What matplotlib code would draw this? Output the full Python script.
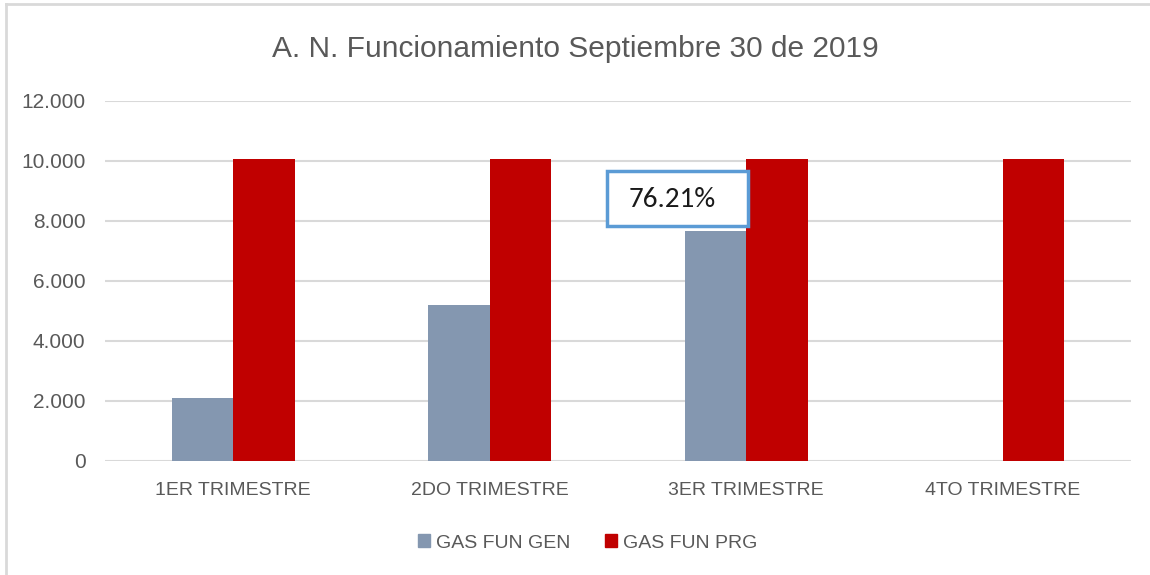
import matplotlib.pyplot as plt
import numpy as np
from matplotlib.patches import Rectangle
from matplotlib.lines import Line2D

categories = ["1ER TRIMESTRE", "2DO TRIMESTRE", "3ER TRIMESTRE", "4TO TRIMESTRE"]
gas_fun_gen = [2110, 5210, 7671, 0]
gas_fun_prg = [10066, 10066, 10066, 10066]
y_ticks = [0, 2000, 4000, 6000, 8000, 10000, 12000]
y_tick_labels = ["0", "2.000", "4.000", "6.000", "8.000", "10.000", "12.000"]
pct_label = "76.21%"

narrow = ["Liberation Sans Narrow", "Liberation Sans", "DejaVu Sans"]
txt_color = "#595959"

fig = plt.figure(figsize=(11.5, 5.75), dpi=100)
ax = fig.add_axes([105 / 1150, 1 - 461 / 575, 1026 / 1150, 360 / 575])

x = np.arange(len(categories))
w = 0.24
ax.bar(x - w / 2, gas_fun_gen, w, color="#8497B0", label="GAS FUN GEN", zorder=3)
ax.bar(x + w / 2, gas_fun_prg, w, color="#C00000", label="GAS FUN PRG", zorder=3)

ax.set_xlim(-0.5, len(categories) - 0.5)
ax.set_ylim(0, 12000)
ax.set_yticks(y_ticks)
ax.set_yticklabels(y_tick_labels, family=narrow, fontsize=15, color=txt_color)
ax.set_xticks(x)
ax.set_xticklabels(categories, family=narrow, fontsize=14, color=txt_color)
ax.tick_params(length=0)
ax.tick_params(axis="y", pad=14)
ax.tick_params(axis="x", pad=15)
ax.grid(axis="y", color="#D9D9D9", linewidth=1.5, zorder=0)
for s in ax.spines.values():
    s.set_visible(False)

# data label box on the third quarter
ax.add_patch(Rectangle((1.457, 7833), 0.55, 1834, fc="white", ec="#5B9BD5",
                       lw=2.5, zorder=5))
ax.text(1.713, 8720, pct_label, ha="center", va="center", fontsize=21,
        family=["Carlito", "Open Sans", "DejaVu Sans"], color="#1a1a1a", zorder=6)

fig.text(0.5, 1 - 49 / 575, "A. N. Funcionamiento Septiembre 30 de 2019",
         ha="center", va="center", fontsize=21.5, family=narrow, color=txt_color)

handles = [Rectangle((0, 0), 1, 1, color="#8497B0"), Rectangle((0, 0), 1, 1, color="#C00000")]
fig.legend(handles, ["GAS FUN GEN", "GAS FUN PRG"], loc="center",
           bbox_to_anchor=(0.511, 1 - 543 / 575), ncol=2, frameon=False,
           prop={"family": narrow, "size": 14}, labelcolor=txt_color,
           handlelength=0.6, handleheight=0.6, handletextpad=0.3, columnspacing=1.8)

# outer chart border (top and left)
fig.add_artist(Line2D([6 / 1150, 1], [1 - 4 / 575, 1 - 4 / 575], color="#D9D9D9", lw=2))
fig.add_artist(Line2D([6 / 1150, 6 / 1150], [0, 1 - 4 / 575], color="#D9D9D9", lw=2))

fig.savefig("out.png", dpi=100)
